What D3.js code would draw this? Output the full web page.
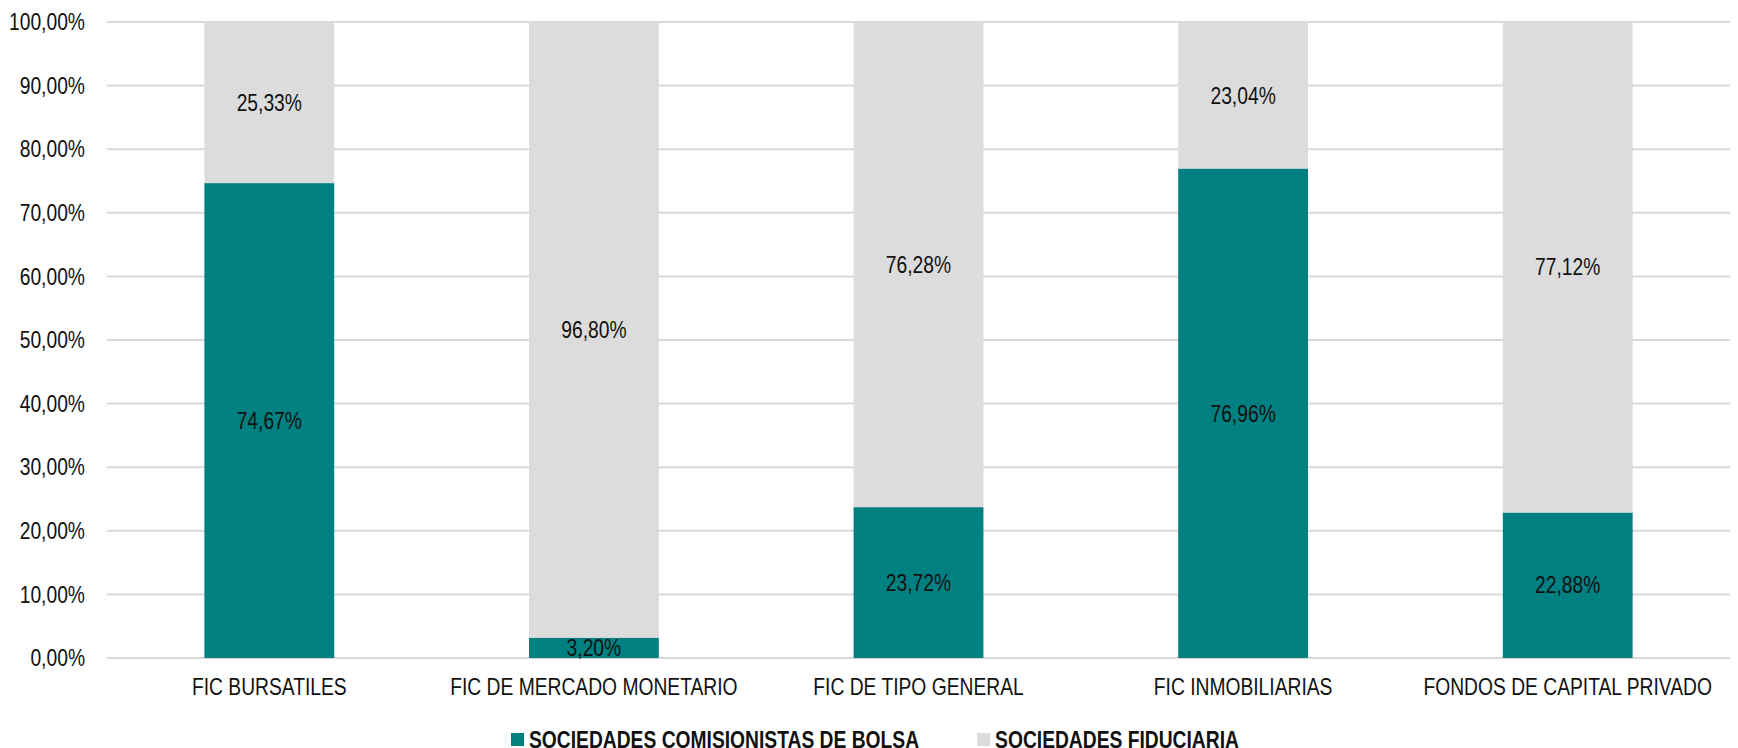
<!DOCTYPE html>
<html>
<head>
<meta charset="utf-8">
<script src="https://cdn.jsdelivr.net/npm/d3@7"></script>
<style>
  body { margin: 0; background: #fff; }
  text { fill: #111; }
</style>
</head>
<body>
<svg id="chart"></svg>
<script>
const categories = ['FIC BURSATILES', 'FIC DE MERCADO MONETARIO', 'FIC DE TIPO GENERAL', 'FIC INMOBILIARIAS', 'FONDOS DE CAPITAL PRIVADO'];
const comisionistas = [74.67, 3.20, 23.72, 76.96, 22.88];
const fiduciaria = [25.33, 96.80, 76.28, 23.04, 77.12];
const seriesNames = ['SOCIEDADES COMISIONISTAS DE BOLSA', 'SOCIEDADES FIDUCIARIA'];
const yTicks = [0, 10, 20, 30, 40, 50, 60, 70, 80, 90, 100];

const colors = ['#008080', '#dcdcdc'];
const width = 1738;
const height = 748;
const margin = { top: 22, right: 8, bottom: 90, left: 107 };
const fontSize = 23.5;

const svg = d3.select('#chart').attr('width', width).attr('height', height);

// check whether a narrow face is installed, otherwise squeeze the regular one
const probe = svg.append('text').style('font-size', '40px').text('SOCIEDADES 100,00%');
probe.style('font-family', '"Liberation Sans Narrow", "Arial Narrow"');
const wNarrow = probe.node().getComputedTextLength();
probe.style('font-family', '"Liberation Sans", Arial');
const wReg = probe.node().getComputedTextLength();
probe.remove();
const hasNarrow = wNarrow < wReg * 0.9;
const family = hasNarrow ? '"Liberation Sans Narrow", "Arial Narrow", sans-serif' : '"Liberation Sans", Arial, sans-serif';
const sx = hasNarrow ? 1 : 0.82;

// put a text at (x, y) with the horizontal squeeze
function place(sel, fx, fy) {
    sel.attr('transform', (d, i) => `translate(${fx(d, i)},${fy(d, i)}) scale(${sx},1)`)
        .style('font-family', family)
        .style('font-size', fontSize + 'px')
        .attr('dy', '0.35em');
    return sel;
}

const fmt = v => v.toFixed(2).replace('.', ',') + '%';

const x = d3.scaleBand()
    .domain(categories)
    .range([margin.left, width - margin.right])
    .paddingInner(0.6)
    .paddingOuter(0.3);

const y = d3.scaleLinear()
    .domain([0, 100])
    .range([height - margin.bottom, margin.top]);

// gridlines
svg.append('g')
    .selectAll('line')
    .data(yTicks)
    .enter()
    .append('line')
    .attr('x1', margin.left)
    .attr('x2', width - margin.right)
    .attr('y1', d => y(d))
    .attr('y2', d => y(d))
    .attr('stroke', '#d9d9d9')
    .attr('stroke-width', 2);

// y tick labels
place(svg.append('g')
    .selectAll('text')
    .data(yTicks)
    .enter()
    .append('text')
    .attr('text-anchor', 'end')
    .text(d => fmt(d)), () => 85, d => y(d));

const rows = categories.map((c, i) => ({ cat: c, vals: [comisionistas[i], fiduciaria[i]] }));
const stack = d3.stack().keys([0, 1]).value((d, k) => d.vals[k]);
const layers = stack(rows);

const g = svg.append('g');
layers.forEach((layer, k) => {
    g.selectAll('.bar' + k)
        .data(layer)
        .enter()
        .append('rect')
        .attr('x', d => x(d.data.cat))
        .attr('width', x.bandwidth())
        .attr('y', d => y(d[1]))
        .attr('height', d => y(d[0]) - y(d[1]))
        .attr('fill', colors[k]);
});

layers.forEach((layer, k) => {
    place(g.selectAll('.lbl' + k)
        .data(layer)
        .enter()
        .append('text')
        .attr('text-anchor', 'middle')
        .text(d => fmt(d.data.vals[k])),
        d => x(d.data.cat) + x.bandwidth() / 2,
        d => (y(d[0]) + y(d[1])) / 2);
});

// category labels
place(svg.append('g')
    .selectAll('text')
    .data(categories)
    .enter()
    .append('text')
    .attr('text-anchor', 'middle')
    .text(d => d), d => x(d) + x.bandwidth() / 2, () => 686.5);

// legend
const items = svg.append('g').selectAll('g')
    .data(seriesNames)
    .enter()
    .append('g');
items.append('rect')
    .attr('width', 13)
    .attr('height', 13)
    .attr('y', 733)
    .attr('fill', (d, i) => colors[i]);
place(items.append('text')
    .style('font-weight', 'bold')
    .text(d => d), () => 18, () => 739.5);

const widths = [];
items.each(function () {
    const w = d3.select(this).select('text').node().getComputedTextLength() * sx;
    widths.push(18 + w);
});
const gap = 58;
let start = 511;
items.attr('transform', (d, i) => {
    const tx = start;
    start += widths[i] + gap;
    return `translate(${tx},0)`;
});
</script>
</body>
</html>
